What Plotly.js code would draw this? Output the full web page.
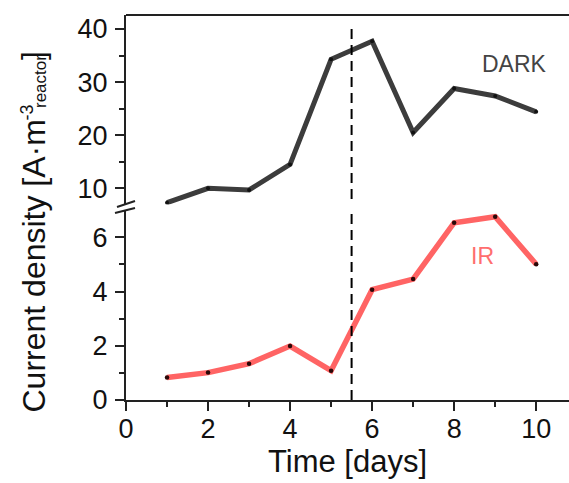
<!DOCTYPE html>
<html>
<head>
<meta charset="utf-8">
<script src="https://cdn.plot.ly/plotly-3.0.1.min.js"></script>
<style>html,body{margin:0;padding:0;background:#fff;}#chart{width:569px;height:483px;}</style>
</head>
<body>
<div id="chart"></div>
<script>
// ---- data ----
const days = [1, 2, 3, 4, 5, 6, 7, 8, 9, 10];
const darkValues = [7.3, 10.0, 9.7, 14.5, 34.3, 37.7, 20.5, 28.8, 27.4, 24.4];
const irValues = [0.83, 1.01, 1.34, 1.99, 1.08, 4.07, 4.46, 6.54, 6.76, 5.01];
const xTickVals = [0, 2, 4, 6, 8, 10];
const xMinorVals = [1, 3, 5, 7, 9];
const lowerTickVals = [0, 2, 4, 6];
const lowerMinorVals = [1, 3, 5];
const upperTickVals = [10, 20, 30, 40];
const upperMinorVals = [15, 25, 35];
const transitionDay = 5.5;
const transitionTop = 40;
const seriesLabels = ['DARK', 'IR'];

const FONT = 'Liberation Sans, Arial, sans-serif';
const AX = '#222';

const traces = [
  {
    x: days, y: darkValues, yaxis: 'y2', xaxis: 'x', name: seriesLabels[0],
    mode: 'lines+markers', line: {color: '#3c3c3c', width: 5},
    marker: {color: '#111', size: 4}
  },
  {
    x: days, y: irValues, yaxis: 'y', xaxis: 'x', name: seriesLabels[1],
    mode: 'lines+markers', line: {color: 'rgb(255,100,100)', width: 5.5},
    marker: {color: '#2a0808', size: 4.5}
  }
];

const axisCommon = {
  showline: true, linewidth: 2, linecolor: AX, zeroline: false, showgrid: false,
  ticks: 'outside', ticklen: 9, tickwidth: 2, tickcolor: AX,
  tickfont: {family: FONT, size: 27, color: '#111'}
};

const layout = {
  width: 569, height: 483,
  margin: {l: 126, r: 0, t: 15, b: 83},
  paper_bgcolor: '#fff', plot_bgcolor: '#fff',
  showlegend: false,
  font: {family: FONT, color: '#111'},
  xaxis: Object.assign({}, axisCommon, {
    range: [0, 10.8], tickvals: xTickVals, anchor: 'y', ticklabelstandoff: -5,
    minor: {tickvals: xMinorVals, ticks: 'outside', ticklen: 5, tickwidth: 2, tickcolor: AX},
    title: {text: 'Time [days]', font: {family: FONT, size: 31, color: '#111'}, standoff: 2}
  }),
  yaxis: Object.assign({}, axisCommon, {
    domain: [0, 0.49], range: [0, 6.96], tickvals: lowerTickVals, anchor: 'x', ticklabelstandoff: 2,
    minor: {tickvals: lowerMinorVals, ticks: 'outside', ticklen: 5, tickwidth: 2, tickcolor: AX}
  }),
  yaxis2: Object.assign({}, axisCommon, {
    domain: [0.508, 1], range: [6.97, 42.64], tickvals: upperTickVals, anchor: 'x', ticklabelstandoff: 2,
    minor: {tickvals: upperMinorVals, ticks: 'outside', ticklen: 5, tickwidth: 2, tickcolor: AX}
  }),
  shapes: [
    // top frame
    {type: 'line', xref: 'paper', yref: 'paper', x0: 0, x1: 1, y0: 1, y1: 1, line: {color: AX, width: 2}},
    // axis break marks
    {type: 'line', xref: 'paper', yref: 'paper', x0: -0.0203, y0: 0.5013, x1: 0.0203, y1: 0.5169, line: {color: AX, width: 2}},
    {type: 'line', xref: 'paper', yref: 'paper', x0: -0.0248, y0: 0.4857, x1: 0.0203, y1: 0.4987, line: {color: AX, width: 2}},
    // transition dashed line
    {type: 'line', xref: 'x', yref: 'y2', x0: transitionDay, x1: transitionDay, y0: transitionTop, y1: 6.97, line: {color: '#000', width: 2, dash: '10px,6px'}},
    {type: 'line', xref: 'x', yref: 'y', x0: transitionDay, x1: transitionDay, y0: 0, y1: 6.96, line: {color: '#000', width: 2, dash: '10px,6px'}}
  ],
  annotations: [
    {text: seriesLabels[0], xref: 'x', yref: 'y2', x: 9.47, y: 33.4, showarrow: false,
     font: {family: FONT, size: 23, color: '#444'}},
    {text: seriesLabels[1], xref: 'x', yref: 'y', x: 8.69, y: 5.31, showarrow: false,
     font: {family: FONT, size: 23, color: 'rgb(255,110,110)'}},
    // y-axis title pieces
    {text: 'Current density [A·m', xref: 'paper', yref: 'paper', x: 0, y: 0, xshift: -93, yshift: 133.5,
     textangle: -90, showarrow: false, xanchor: 'center', yanchor: 'middle',
     font: {family: FONT, size: 32, color: '#111'}},
    {text: '-3', xref: 'paper', yref: 'paper', x: 0, y: 0, xshift: -100, yshift: 287.5,
     textangle: -90, showarrow: false, xanchor: 'center', yanchor: 'middle',
     font: {family: FONT, size: 18, color: '#111'}},
    {text: 'reactor', xref: 'paper', yref: 'paper', x: 0, y: 0, xshift: -86, yshift: 318,
     textangle: -90, showarrow: false, xanchor: 'center', yanchor: 'middle',
     font: {family: FONT, size: 17, color: '#111'}},
    {text: ']', xref: 'paper', yref: 'paper', x: 0, y: 0, xshift: -93, yshift: 344,
     textangle: -90, showarrow: false, xanchor: 'center', yanchor: 'middle',
     font: {family: FONT, size: 32, color: '#111'}}
  ]
};

Plotly.newPlot('chart', traces, layout, {displayModeBar: false, staticPlot: true});
</script>
</body>
</html>
